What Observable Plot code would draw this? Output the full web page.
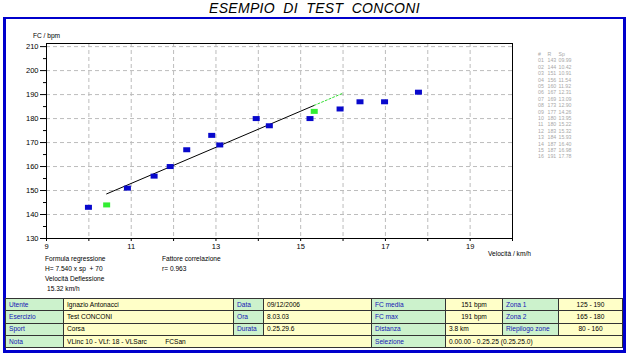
<!DOCTYPE html>
<html><head><meta charset="utf-8">
<script src="https://cdn.jsdelivr.net/npm/d3@7"></script>
<script src="https://cdn.jsdelivr.net/npm/@observablehq/plot@0.6"></script>
<style>
body{margin:0;width:629px;height:357px;background:#fff;position:relative;overflow:hidden;font-family:"Liberation Sans",Arial,sans-serif;}
#title{position:absolute;left:0;top:0;width:629px;text-align:center;font-style:italic;font-size:14px;white-space:pre;letter-spacing:0.3px;line-height:16px;color:#000;}
#box{position:absolute;left:3px;top:17px;width:617px;height:331px;border:3px solid #0000cc;border-top-width:2px;}
#chart{position:absolute;left:0;top:16px;}
.t{position:absolute;font-size:6.6px;white-space:pre;color:#000;line-height:8px;}
.lst{position:absolute;font-size:5.2px;white-space:pre;color:#a8a8a8;line-height:6.4px;}
table{position:absolute;left:5px;top:298px;width:617px;border-collapse:collapse;table-layout:fixed;}
td{border:1px solid #333;height:11.3px;padding:0 0 0 3px;font-size:6.6px;line-height:8px;white-space:pre;overflow:hidden;}
td.l{background:#ccf2cc;color:#1414b4;}
td.v{background:#ffffc8;color:#000;}
td.c{text-align:center;padding:0;}
</style></head>
<body>
<div id="title">ESEMPIO  DI  TEST  CONCONI</div>
<div id="box"></div>
<div id="chart"></div>
<div class="t" style="left:33px;top:32px;">FC / bpm</div>
<div class="t" style="left:488px;top:250px;">Velocità / km/h</div>
<div id="notes"></div>
<div id="list"></div>
<table id="tbl"></table>
<script>
// ---- data ----
const ids   = ["01","02","03","04","05","06","07","08","09","10","11","12","13","14","15","16"];
const hr    = [143,144,151,156,160,167,169,173,177,180,180,183,184,187,187,191];
const speed = [9.99,10.42,10.91,11.54,11.92,12.31,13.09,12.90,14.26,13.95,15.22,15.32,15.93,16.40,16.98,17.78];
const greenIds = ["02","12"];
const regX = [10.42, 15.32];
const regY = [148.6, 185.5];
const extX = [15.32, 16.0];
const extY = [185.5, 190.6];
const xTickLabels = [9, 11, 13, 15, 17, 19];
const xTicksAll = [9,10,11,12,13,14,15,16,17,18,19,20];
const yTickLabels = [130,140,150,160,170,180,190,200,210];
const yMinor = [135,145,155,165,175,185,195,205];
const xGrid = [10,11,12,13,14,15,16,17,18,19];
const yGrid = [140,150,160,170,180,190,200,210];
const listHeader = ["#","R","Sp"];
const notesLeft = ["Formula regressione","H= 7.540 x sp  + 70","Velocità Deflessione","15.32 km/h"];
const notesRight = ["Fattore correlazione","r= 0.963"];
const tableRows = [
  [["Utente","l"],["Ignazio Antonacci","v"],["Data","l"],["09/12/2006","v"],["FC media","l"],["151 bpm","v c"],["Zona 1","l"],["125 - 190","v c"]],
  [["Esercizio","l"],["Test CONCONI","v"],["Ora","l"],["8.03.03","v"],["FC max","l"],["191 bpm","v c"],["Zona 2","l"],["165 - 180","v c"]],
  [["Sport","l"],["Corsa","v"],["Durata","l"],["0.25.29.6","v"],["Distanza","l"],["3.8 km","v"],["Riepilogo zone","l"],["80 - 160","v c"]],
  [["Nota","l"],["VLinc 10 - VLf: 18 - VLSarc          FCSan","v",3],["Selezione","l"],["0.00.00 - 0.25.25 (0.25.25.0)","v",3]]
];
const colW = [58,170,30,108,74,57,56,64];

const pts = ids.map((id,i)=>({id, hr:hr[i], sp:speed[i], g: greenIds.includes(id)}));
const reg = regX.map((x,i)=>({x, y:regY[i]}));
const ext = extX.map((x,i)=>({x, y:extY[i]}));

const rectSym = {draw(ctx){ ctx.rect(-3.5,-2.5,7,5); }};

const chart = Plot.plot({
  width: 629, height: 240,
  marginLeft: 46, marginRight: 117, marginTop: 27, marginBottom: 18,
  style: {fontFamily: "Liberation Sans, Arial, sans-serif", fontSize: "7.5px", background: "transparent"},
  x: {domain: [9, 20], axis: null},
  y: {domain: [130, 211.3], axis: null},
  marks: [
    Plot.ruleX(xGrid, {stroke: "#bcbcbc", strokeDasharray: "4,3"}),
    Plot.ruleY(yGrid, {stroke: "#bcbcbc", strokeDasharray: "4,3"}),
    Plot.axisY({ticks: yTickLabels, tickSize: 6, tickPadding: 2, label: null, stroke: "#000", fill: "#000"}),
    Plot.axisY({ticks: yMinor, tickSize: 3, text: null, label: null, stroke: "#000"}),
    Plot.axisX({ticks: xTicksAll, tickSize: 3, text: null, label: null, stroke: "#000"}),
    Plot.axisX({ticks: xTickLabels, tickSize: 0, tickPadding: 5, label: null, fill: "#000"}),
    Plot.line(reg, {x: "x", y: "y", stroke: "#000", strokeWidth: 1}),
    Plot.line(ext, {x: "x", y: "y", stroke: "#33dd33", strokeWidth: 1, strokeDasharray: "2,2"}),
    Plot.dot(pts, {x: "sp", y: "hr", symbol: rectSym, r: 3, fill: d => d.g ? "#33ee33" : "#0808cc", stroke: null}),
    Plot.frame({stroke: "#000", strokeWidth: 1})
  ]
});
document.getElementById("chart").appendChild(chart);

// notes under the chart
const notes = document.getElementById("notes");
notesLeft.forEach((s,i)=>{ const d=document.createElement("div"); d.className="t"; d.style.left=(i==3?47:45)+"px"; d.style.top=(255+i*10)+"px"; d.textContent=s; notes.appendChild(d); });
notesRight.forEach((s,i)=>{ const d=document.createElement("div"); d.className="t"; d.style.left="162px"; d.style.top=(255+i*10)+"px"; d.textContent=s; notes.appendChild(d); });

// list on the right
const list = document.getElementById("list");
const colX = [538, 547.5, 558.5];
function addL(s, x, y){ const d=document.createElement("div"); d.className="lst"; d.style.left=x+"px"; d.style.top=y+"px"; d.textContent=s; list.appendChild(d); }
listHeader.forEach((s,j)=>addL(s, colX[j], 51));
ids.forEach((id,i)=>{
  const y = 57.4 + i*6.4;
  addL(id, colX[0], y);
  addL(String(hr[i]), colX[1], y);
  addL(speed[i].toFixed(2).padStart(5,"0"), colX[2], y);
});

// table
const tbl = document.getElementById("tbl");
const cg = document.createElement("colgroup");
colW.forEach(w=>{ const c=document.createElement("col"); c.style.width=w+"px"; cg.appendChild(c); });
tbl.appendChild(cg);
tableRows.forEach(r=>{
  const tr=document.createElement("tr");
  r.forEach(([txt,cls,span])=>{ const td=document.createElement("td"); td.className=cls; if(span) td.colSpan=span; td.textContent=txt; tr.appendChild(td); });
  tbl.appendChild(tr);
});
</script>
</body></html>
